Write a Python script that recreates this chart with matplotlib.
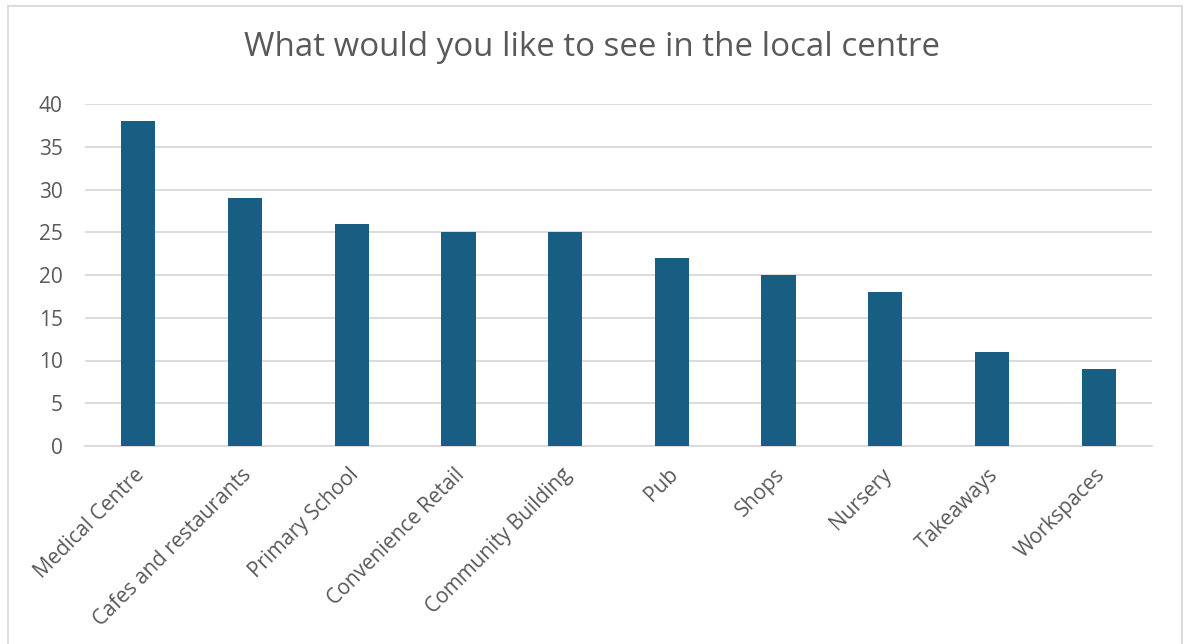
import matplotlib
matplotlib.use("Agg")
import matplotlib.pyplot as plt
import matplotlib.transforms as mtransforms
from matplotlib.lines import Line2D

categories = ["Medical Centre", "Cafes and restaurants", "Primary School",
              "Convenience Retail", "Community Building", "Pub", "Shops",
              "Nursery", "Takeaways", "Workspaces"]
counts = [38, 29, 26, 25, 25, 22, 20, 18, 11, 9]
yticks = [0, 5, 10, 15, 20, 25, 30, 35, 40]

plt.rcParams['font.family'] = ['Open Sans', 'DejaVu Sans']

W, H = 1184, 644
fig = plt.figure(figsize=(W / 100, H / 100), dpi=100)
fig.patch.set_facecolor("white")

text_col = "#595959"
grid_col = "#D9D9D9"
bar_col = "#175E82"

# plot area in pixel coordinates
left, right, top, bottom = 85, 1152, 104, 446
ax = fig.add_axes([left / W, 1 - bottom / H, (right - left) / W, (bottom - top) / H])

x = list(range(len(categories)))
ax.bar(x, counts, width=0.32, color=bar_col, zorder=3)
ax.set_xlim(-0.5, len(categories) - 0.5)
ax.set_ylim(0, 40)
ax.set_yticks(yticks)
ax.set_yticklabels([str(v) for v in yticks])
ax.yaxis.grid(True, color=grid_col, linewidth=1.3)
ax.set_axisbelow(True)
for s in ["top", "right", "left"]:
    ax.spines[s].set_visible(False)
ax.spines["bottom"].set_color(grid_col)
ax.spines["bottom"].set_linewidth(1.3)
ax.tick_params(axis="y", length=0, pad=16, labelsize=15, labelcolor=text_col)
ax.tick_params(axis="x", length=0, pad=13, labelsize=15, labelcolor=text_col)
ax.set_xticks(x)
ax.set_xticklabels(categories, rotation=45, ha="right", rotation_mode="anchor")

# nudge the slanted category labels a little to the left
shift = mtransforms.ScaledTranslation(-4 / 100, 0, fig.dpi_scale_trans)
for lab in ax.get_xticklabels():
    lab.set_transform(lab.get_transform() + shift)

fig.text(0.5, 1 - 48 / H, "What would you like to see in the local centre",
         ha="center", va="center", fontsize=23.8, color=text_col)

# chart frame
fx0, fx1, fy0 = 7.5 / W, 1181.5 / W, 1 - 5.5 / H
for xs, ys in [([fx0, fx0], [0, fy0]), ([fx1, fx1], [0, fy0]), ([fx0, fx1], [fy0, fy0])]:
    fig.add_artist(Line2D(xs, ys, color="#D9D9D9", linewidth=1.3,
                          transform=fig.transFigure))

fig.savefig("out.png", dpi=100)
